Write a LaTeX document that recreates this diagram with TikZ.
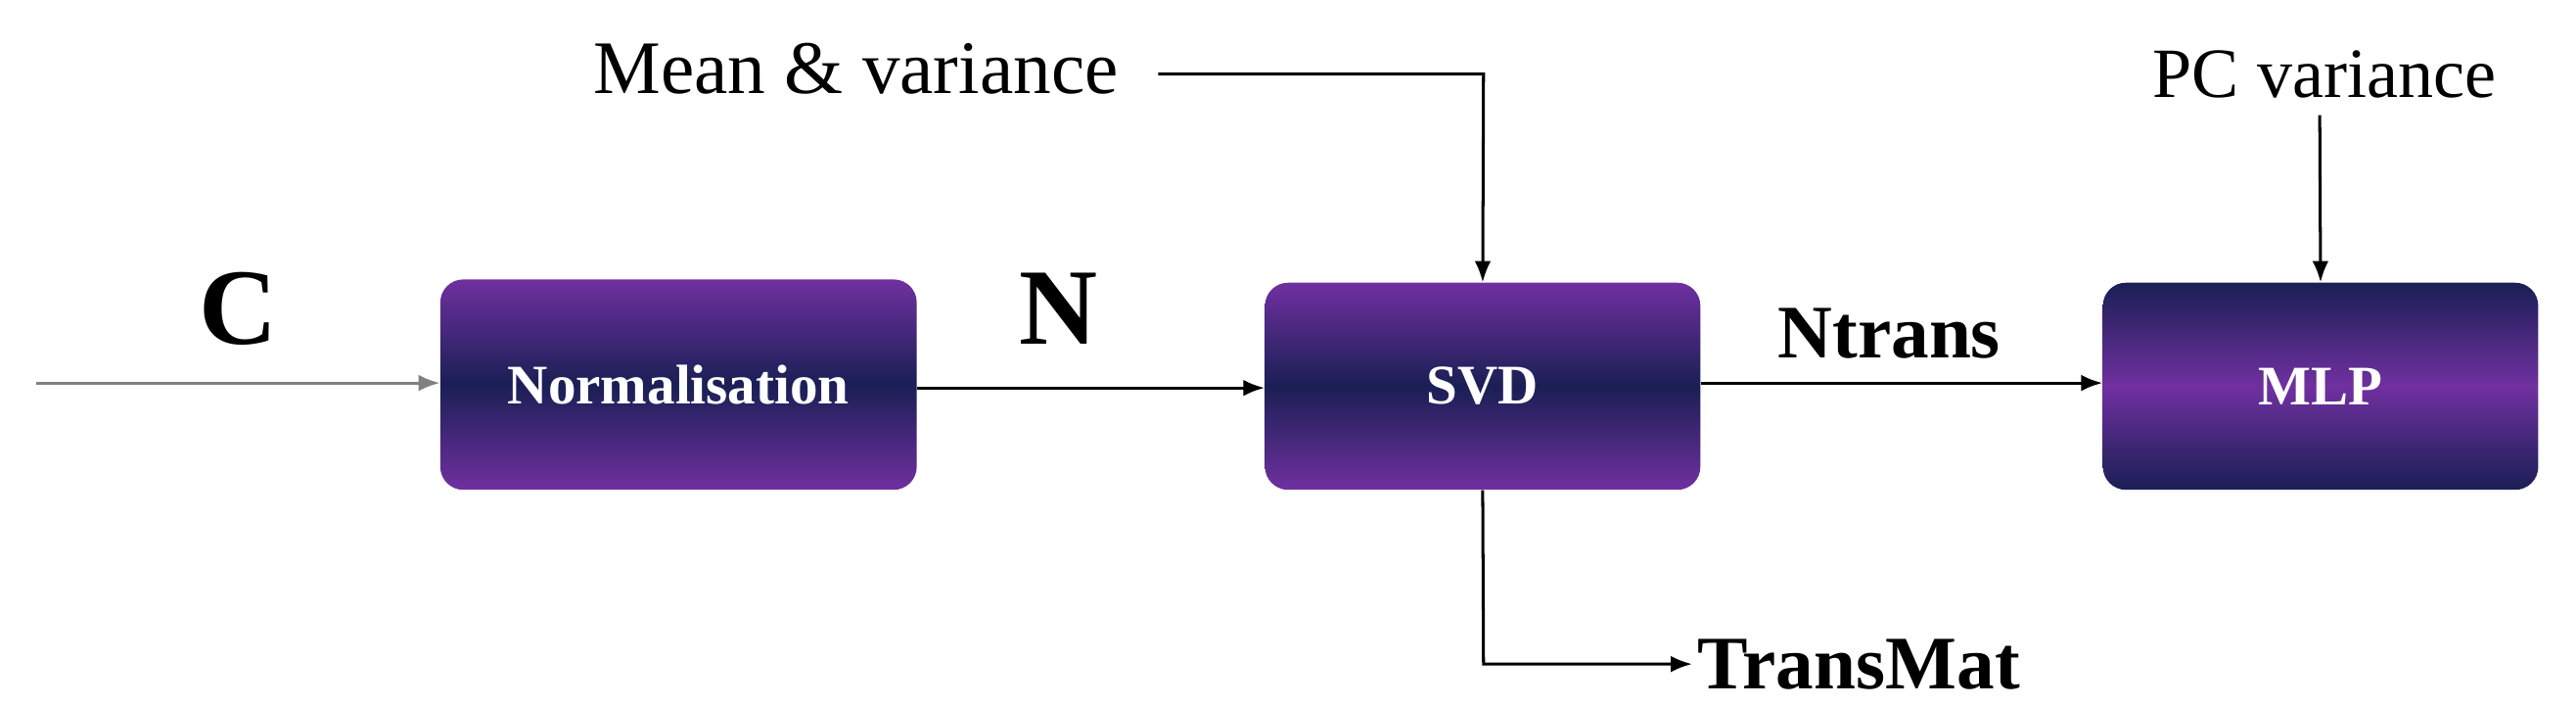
\documentclass[tikz,border=0pt]{standalone}
\usepackage{fontspec}
\setmainfont{Liberation Serif}
\begin{document}
\begin{tikzpicture}[x=1pt,y=-1pt,
 box/.style={rounded corners=14pt,draw=none,text=white,font=\fontsize{34}{40}\selectfont\bfseries},
 arr/.style={-{Latex[length=13pt,width=10pt]},line width=1.8pt}]
\usetikzlibrary{arrows.meta}
\definecolor{pur}{HTML}{7030A0}
\definecolor{navy}{HTML}{1A1F55}
\useasboundingbox (0,0) rectangle (1568,429);
\node[box,minimum width=290pt,minimum height=128pt,top color=pur,bottom color=pur,middle color=navy] (norm) at (413,234) {Normalisation};
\node[box,minimum width=265pt,minimum height=126pt,top color=pur,bottom color=pur,middle color=navy] (svd) at (902.5,235) {SVD};
\node[box,minimum width=265pt,minimum height=126pt,top color=navy,bottom color=navy,middle color=pur] (mlp) at (1412.5,235) {MLP};
\node[font=\fontsize{66}{70}\selectfont\bfseries] (c) at (145,188) {C};
\node[font=\fontsize{66}{70}\selectfont\bfseries] (n) at (644,188) {N};
\node[font=\fontsize{46}{52}\selectfont\bfseries] (nt) at (1150,203) {Ntrans};
\node[font=\fontsize{46}{52}\selectfont] (mv) at (521,42) {Mean \& variance};
\node[font=\fontsize{43}{50}\selectfont] (pc) at (1415,45) {PC variance};
\node[font=\fontsize{46}{52}\selectfont\bfseries,anchor=west] (tm) at (1030,404) {TransMat};
\coordinate (in) at (22,233);
\coordinate (mvs) at (705,45);
\draw[arr,draw=gray] (in) -- (norm.west |- in);
\draw[arr] (norm.east |- 0,236) -- (svd.west |- 0,236);
\draw[arr] (mvs) -- (903,45) -- (svd.north);
\draw[arr] (svd.east |- 0,233) -- (mlp.west |- 0,233);
\draw[arr] (1412,70) -- (mlp.north);
\draw[arr] (svd.south) -- (903,404) -- (tm.west);
\end{tikzpicture}
\end{document}
